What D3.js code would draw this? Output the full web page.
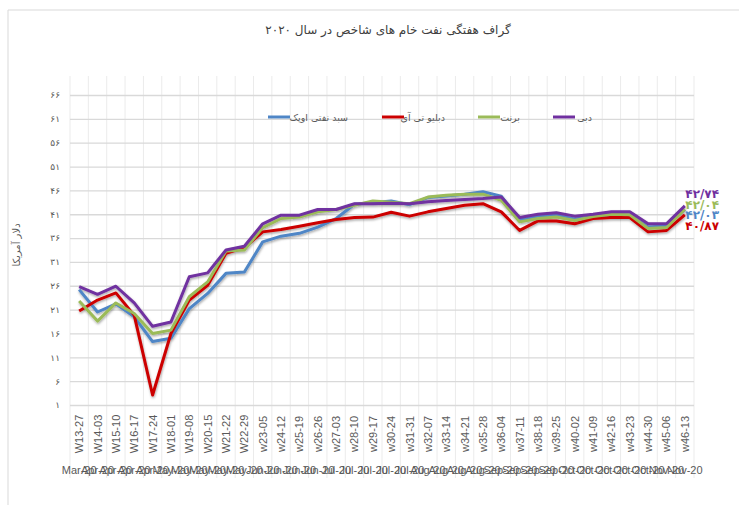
<!DOCTYPE html>
<html><head><meta charset="utf-8">
<script src="https://cdn.jsdelivr.net/npm/d3@7"></script>
<style>body{margin:0;background:#fff}svg{display:block}</style>
</head><body>
<svg id="chart" width="739" height="505"></svg>
<script>
const categories = ["W13-27","W14-03","W15-10","W16-17","W17-24","W18-01","W19-08","W20-15","W21-22","W22-29","w23-05","w24-12","w25-19","w26-26","w27-03","w28-10","w29-17","w30-24","w31-31","w32-07","w33-14","w34-21","w35-28","w36-04","w37-11","w38-18","w39-25","w40-02","w41-09","w42-16","w43-23","w44-30","w45-06","w46-13"];
const months = ["Mar-20","Apr-20","Apr-20","Apr-20","Apr-20","May-20","May-20","May-20","May-20","May-20","Jun-20","Jun-20","Jun-20","Jun-20","Jul-20","Jul-20","Jul-20","Jul-20","Jul-20","Aug-20","Aug-20","Aug-20","Aug-20","Sep-20","Sep-20","Sep-20","Sep-20","Oct-20","Oct-20","Oct-20","Oct-20","Oct-20","Nov-20","Nov-20"];
const opec  = [25.2,20.5,22.2,19.5,14.3,15.0,21.2,24.4,28.6,28.9,35.2,36.4,37.0,38.3,40.1,43.1,43.4,43.8,43.0,44.5,44.8,45.2,45.7,44.8,39.8,40.5,40.8,40.0,40.5,40.9,40.8,38.3,38.6,42.03];
const wti   = [20.7,23.0,24.5,19.8,3.1,16.0,23.0,26.1,32.8,34.0,37.3,37.8,38.5,39.2,39.9,40.3,40.4,41.4,40.6,41.5,42.2,42.9,43.2,41.5,37.6,39.6,39.6,39.0,40.1,40.3,40.3,37.3,37.6,40.87];
const brent = [22.8,18.6,22.4,20.2,16.0,16.7,23.7,26.8,33.3,33.5,38.2,40.1,40.4,41.5,42.0,42.9,43.8,43.5,43.2,44.6,45.0,45.2,45.2,43.9,39.4,40.1,40.4,39.7,40.5,41.0,40.9,38.0,38.2,42.04];
const dubai = [25.8,24.2,25.9,22.4,17.5,18.4,27.9,28.7,33.5,34.3,39.0,40.8,40.8,42.0,42.0,43.2,43.2,43.3,43.2,43.6,43.9,44.1,44.3,44.6,40.3,41.0,41.3,40.6,41.0,41.5,41.5,39.0,39.0,42.74];
const yTicks = [1,6,11,16,21,26,31,36,41,46,51,56,61,66];
const seriesNames = ["سبد نفتی اوپک","دبلیو تی آی","برنت","دبی"];
const endLabels = ["۴۲/۰۳","۴۰/۸۷","۴۲/۰۴","۴۲/۷۴"];
const title = "گراف هفتگی نفت خام های شاخص در سال ۲۰۲۰";
const yTitle = "دلار آمریکا";

const colors = ["#4f86c6","#cc0000","#9bbb59","#7030a0"];
const series = [opec, wti, brent, dubai];
const fa = s => String(s).replace(/[0-9]/g, d => "۰۱۲۳۴۵۶۷۸۹"[d]).replace(/\./g, "/");

const svg = d3.select("#chart");
const L = 70, R = 694, T = 95, B = 405;
const x = d3.scaleBand().domain(categories).range([L, R]);
const y = d3.scaleLinear().domain([1, 66]).range([B, T]);

// frame
svg.append("path").attr("d","M8,505V10H739").attr("fill","none").attr("stroke","#d9d9d9").attr("stroke-width",1);

const defs = svg.append("defs");
const f = defs.append("filter").attr("id","sh").attr("x","-5%").attr("y","-5%").attr("width","110%").attr("height","120%");
f.append("feDropShadow").attr("dx",0.5).attr("dy",1.5).attr("stdDeviation",1).attr("flood-color","#000").attr("flood-opacity",0.35);

// vertical gridlines (band boundaries)
const bounds = categories.map(c => x(c)).concat([R]);
svg.append("g").selectAll("line").data(bounds).join("line")
  .attr("x1", d => d).attr("x2", d => d).attr("y1", 76).attr("y2", 478)
  .attr("stroke", "#ebebeb").attr("stroke-width", 1);

// y axis with horizontal gridlines
const yAxis = svg.append("g").attr("transform", `translate(${L},0)`)
  .call(d3.axisLeft(y).tickValues(yTicks).tickSize(-(R - L)).tickPadding(10).tickFormat(fa));
yAxis.select(".domain").remove();
yAxis.selectAll(".tick line").attr("stroke", "#d9d9d9").attr("stroke-width", 1.3);
yAxis.selectAll(".tick text").attr("fill", "#595959").style("font-family", "DejaVu Sans").style("font-size", "9px");

// x week labels
svg.append("g").selectAll("text").data(categories).join("text")
  .attr("transform", d => `translate(${x(d) + x.bandwidth()/2 + 4},434) rotate(-90)`)
  .attr("text-anchor", "middle")
  .attr("fill", "#595959").style("font-family", "Liberation Sans").style("font-size", "11px")
  .text(d => d);
// month labels (overlapping, as in the original)
svg.append("g").selectAll("text").data(months).join("text")
  .attr("x", (d, i) => x(categories[i]) + x.bandwidth()/2).attr("y", 474)
  .attr("text-anchor", "middle")
  .attr("fill", "#595959").style("font-family", "Liberation Sans").style("font-size", "11px")
  .text(d => d);

// lines
const line = d3.line().x((d, i) => x(categories[i]) + x.bandwidth()/2).y(d => y(d));
svg.append("g").attr("filter","url(#sh)").selectAll("path").data(series).join("path")
  .attr("d", line).attr("fill", "none")
  .attr("stroke", (d, i) => colors[i]).attr("stroke-width", 3).attr("stroke-linejoin", "round");

// end labels
const endOrder = [3, 2, 0, 1];
const endY = [193, 204, 214, 225];
svg.append("g").selectAll("text").data(endOrder).join("text")
  .attr("x", 719).attr("y", (d, k) => endY[k] + 5)
  .attr("text-anchor", "end")
  .attr("fill", d => colors[d]).style("font-family", "DejaVu Sans").style("font-weight", "bold").style("font-size", "12px")
  .text(d => endLabels[d]);

// title
svg.append("text").attr("x", 388).attr("y", 34).attr("text-anchor", "middle")
  .attr("fill", "#404040").style("font-family", "DejaVu Sans").style("font-size", "12px").text(title);

// y title
svg.append("text").attr("transform", "translate(20,245) rotate(-90)").attr("text-anchor", "middle")
  .attr("fill", "#595959").style("font-family", "DejaVu Sans").style("font-size", "10px").text(yTitle);

// legend
const legX = [268, 382, 478, 553];
const legTextEnd = [348, 445, 520, 592];
const lg = svg.append("g").selectAll("g").data(seriesNames).join("g");
lg.append("line").attr("x1", (d, i) => legX[i]).attr("x2", (d, i) => legX[i] + 22).attr("y1", 117).attr("y2", 117)
  .attr("stroke", (d, i) => colors[i]).attr("stroke-width", 3);
lg.append("text").attr("x", (d, i) => legTextEnd[i]).attr("y", 121).attr("text-anchor", "end")
  .attr("fill", "#595959").style("font-family", "DejaVu Sans").style("font-size", "9.5px")
  .text(d => d);
</script>
</body></html>
